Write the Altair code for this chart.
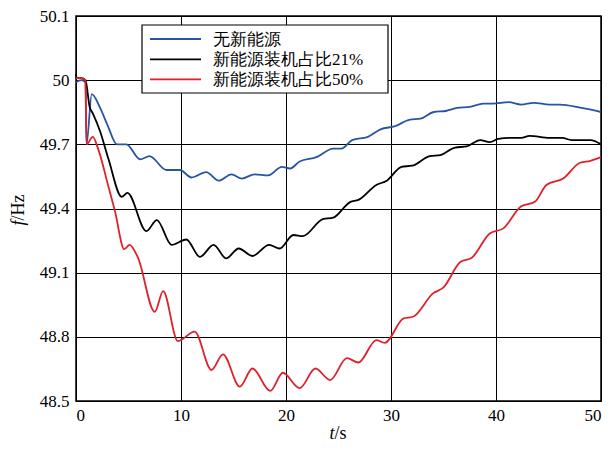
import altair as alt
import pandas as pd

# ---- data ----
series_names = ["无新能源", "新能源装机占比21%", "新能源装机占比50%"]
series_colors = ["#2755a6", "#000000", "#e0202a"]

t_blue = [0, 0.5, 0.9, 1.0, 1.5, 2.3, 3.0, 3.9, 4.8, 6.1, 7.0, 8.6, 9.9, 11.0, 12.4, 13.6,
          14.8, 15.8, 17.0, 18.3, 19.6, 20.4, 21.3, 22.9, 24.5, 25.3, 26.3, 27.8, 29.0,
          30.4, 31.8, 32.8, 34.0, 35.3, 36.3, 37.5, 38.8, 39.7, 41.2, 42.4, 43.6, 45.1,
          46.1, 48.0, 49.7, 50]
f_blue = [49.99, 50.0, 49.99, 49.70, 49.935, 49.87, 49.79, 49.70, 49.70, 49.63, 49.645,
          49.58, 49.58, 49.545, 49.57, 49.53, 49.56, 49.54, 49.56, 49.555, 49.595, 49.587,
          49.62, 49.64, 49.68, 49.68, 49.72, 49.735, 49.77, 49.785, 49.816, 49.82, 49.85,
          49.857, 49.87, 49.875, 49.89, 49.89, 49.897, 49.886, 49.894, 49.886, 49.886,
          49.872, 49.855, 49.85]

t_black = [0, 0.05, 0.5, 0.9, 1.3, 1.6, 2.3, 3.1, 4.35, 4.9, 6.7, 7.7, 9.1, 10.5, 11.8,
           13.1, 14.3, 15.5, 16.8, 18.4, 19.4, 20.7, 21.6, 23.5, 24.5, 26.1, 26.9, 28.6,
           29.6, 31.0, 32.0, 33.7, 34.7, 36.1, 37.2, 38.5, 39.4, 40.2, 41.3, 42.4, 43.2,
           45.1, 46.3, 47.2, 49.0, 50]
f_black = [50.03, 50.01, 50.01, 50.0, 49.875, 49.845, 49.76, 49.63, 49.455, 49.473,
           49.294, 49.346, 49.23, 49.255, 49.174, 49.23, 49.167, 49.213, 49.178, 49.23,
           49.213, 49.276, 49.271, 49.35, 49.357, 49.43, 49.44, 49.51, 49.53, 49.595,
           49.60, 49.645, 49.65, 49.685, 49.69, 49.72, 49.71, 49.725, 49.73, 49.73, 49.74,
           49.73, 49.73, 49.72, 49.72, 49.70]

t_red = [0, 0.5, 0.9, 1.0, 1.6, 2.1, 3.1, 3.7, 4.6, 5.1, 5.9, 7.5, 8.3, 9.7, 11.3, 12.9,
         14.0, 15.6, 16.8, 18.5, 19.7, 21.3, 22.8, 24.2, 25.8, 26.9, 28.6, 29.4, 31.2,
         32.1, 34.0, 35.0, 36.6, 37.7, 39.4, 40.7, 42.4, 43.7, 44.8, 46.4, 48.0, 49.0, 50]
f_red = [50.01, 50.01, 50.0, 49.70, 49.735, 49.68, 49.50, 49.39, 49.21, 49.23, 49.17,
         48.917, 49.014, 48.78, 48.824, 48.645, 48.718, 48.567, 48.652, 48.547, 48.632,
         48.56, 48.652, 48.598, 48.70, 48.68, 48.785, 48.772, 48.886, 48.894, 49.003,
         49.031, 49.15, 49.17, 49.283, 49.307, 49.41, 49.431, 49.51, 49.54, 49.614,
         49.623, 49.64]

x_ticks = [0, 10, 20, 30, 40, 50]
y_ticks = [48.5, 48.8, 49.1, 49.4, 49.7, 50.0, 50.3]
y_tick_labels = ["48.5", "48.8", "49.1", "49.4", "49.7", "50", "50.1"]

# ---- build table ----
rows = []
for name, ts, fs in zip(series_names, [t_blue, t_black, t_red], [f_blue, f_black, f_red]):
    for i, (t, f) in enumerate(zip(ts, fs)):
        rows.append({"series": name, "t": t, "f": f, "order": i})
df = pd.DataFrame(rows)

label_expr = "''"
for v, l in reversed(list(zip(y_ticks, y_tick_labels))):
    label_expr = f"abs(datum.value - {v}) < 1e-6 ? '{l}' : ({label_expr})"

FONT = "Liberation Serif"
W, H = 525, 385

lines = alt.Chart(df).mark_line(strokeWidth=1.8, interpolate="monotone").encode(
    x=alt.X("t:Q", scale=alt.Scale(domain=[0, 50], nice=False, zero=False),
            axis=alt.Axis(values=x_ticks, format="d", title=None, grid=True,
                          gridColor="black", gridOpacity=1, gridWidth=1,
                          ticks=False, domain=False, labelPadding=6,
                          labelFont=FONT, labelFontSize=17, labelColor="black")),
    y=alt.Y("f:Q", scale=alt.Scale(domain=[48.5, 50.3], nice=False, zero=False),
            axis=alt.Axis(values=y_ticks, labelExpr=label_expr, title=None, grid=True,
                          gridColor="black", gridOpacity=1, gridWidth=1,
                          ticks=False, domain=False, labelPadding=7,
                          labelFont=FONT, labelFontSize=17, labelColor="black")),
    color=alt.Color("series:N", scale=alt.Scale(domain=series_names, range=series_colors),
                    legend=None),
    order="order:Q",
    detail="series:N",
)

one = pd.DataFrame({"k": [0]})

# axis titles with italic variable letters
xt1 = alt.Chart(one).mark_text(font=FONT, fontSize=18, fontStyle="italic", align="right",
                               baseline="alphabetic", color="black").encode(
    x=alt.value(W / 2 - 4), y=alt.value(H + 38), text=alt.value("t"))
xt2 = alt.Chart(one).mark_text(font=FONT, fontSize=18, align="left",
                               baseline="alphabetic", color="black").encode(
    x=alt.value(W / 2 - 4), y=alt.value(H + 38), text=alt.value("/s"))
yt1 = alt.Chart(one).mark_text(font=FONT, fontSize=18, fontStyle="italic", align="right",
                               baseline="middle", angle=270, color="black").encode(
    x=alt.value(-57), y=alt.value(H / 2 + 12), text=alt.value("f"))
yt2 = alt.Chart(one).mark_text(font=FONT, fontSize=18, align="left",
                               baseline="middle", angle=270, color="black").encode(
    x=alt.value(-57), y=alt.value(H / 2 + 12), text=alt.value("/Hz"))

# legend box
leg_box = alt.Chart(one).mark_rect(fill="white", stroke="black", strokeWidth=1.2).encode(
    x=alt.value(66), x2=alt.value(312), y=alt.value(9), y2=alt.value(77))
legend_layers = [leg_box]
row_y = [23, 43.3, 63.3]
for name, col, ry in zip(series_names, series_colors, row_y):
    legend_layers.append(alt.Chart(one).mark_rule(color=col, strokeWidth=1.8).encode(
        x=alt.value(74), x2=alt.value(125), y=alt.value(ry)))
    legend_layers.append(alt.Chart(one).mark_text(font=FONT, fontSize=17, align="left",
                                                  baseline="middle", color="black").encode(
        x=alt.value(137), y=alt.value(ry + 1), text=alt.value(name)))

chart = alt.layer(lines, *legend_layers, xt1, xt2, yt1, yt2).properties(
    width=W, height=H,
    padding={"left": 68, "top": 8, "right": 2, "bottom": 42},
    autosize=alt.AutoSizeParams(type="none"),
).configure(background="white").configure_view(
    stroke="black", strokeWidth=1.5
).configure_axis(labelFont=FONT, labelFontSize=17, labelColor="black")

chart.save("out.html", embed_options={"renderer": "svg", "actions": False})
